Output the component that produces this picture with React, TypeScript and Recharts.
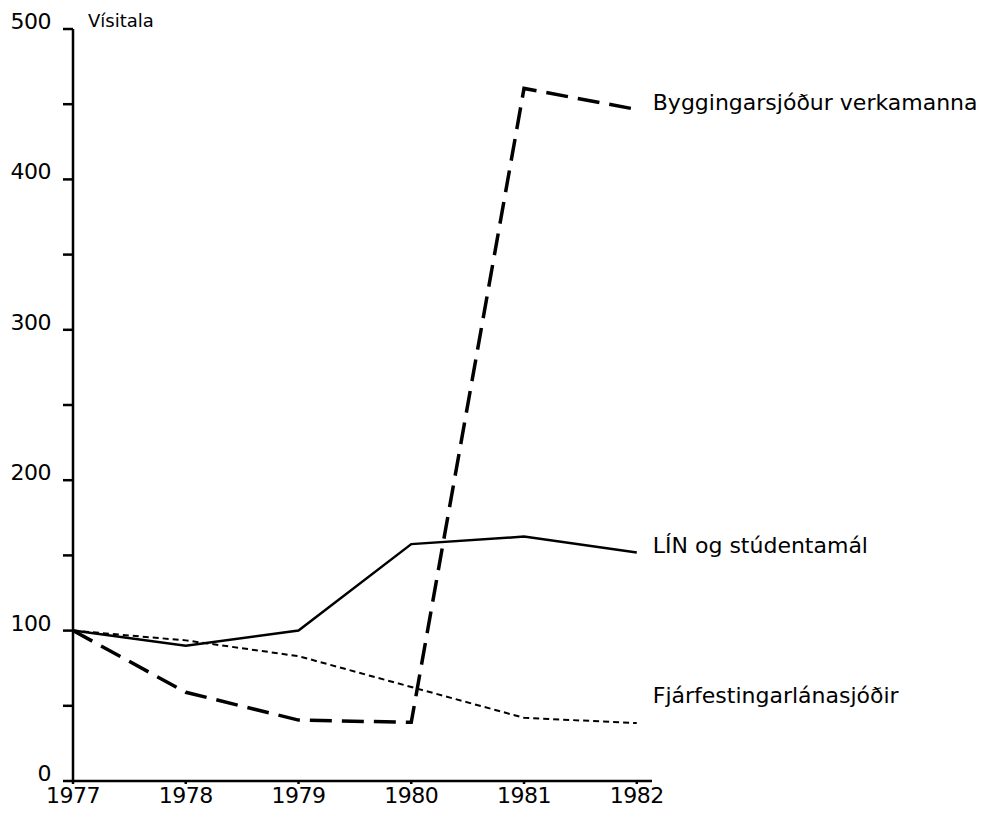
import React from 'react';
import { LineChart, Line, XAxis, YAxis } from 'recharts';

const years = [1977, 1978, 1979, 1980, 1981, 1982];
const byggingarsjodur = [100, 59, 40.5, 39, 460.5, 446.5];
const lin = [100, 90, 100, 157.5, 162.5, 152];
const fjarfesting = [100, 93.5, 83, 62.5, 42, 38.5];
const yTicks = [0, 50, 100, 150, 200, 250, 300, 350, 400, 450, 500];
const seriesNames = ['Byggingarsjóður verkamanna', 'LÍN og stúdentamál', 'Fjárfestingarlánasjóðir'];

const data = years.map((year, i) => ({
  year,
  bygg: byggingarsjodur[i],
  lin: lin[i],
  fjar: fjarfesting[i],
}));

const FONT = '"DejaVu Sans", Verdana, sans-serif';

const YTick = (props: any) => {
  const { x, y, payload } = props;
  if (payload.value % 100 !== 0) return null;
  return (
    <text x={x - 10} y={y - 6} textAnchor="end" dominantBaseline="middle" fontSize={22} fontFamily={FONT} fill="#000" letterSpacing={-0.5}>
      {payload.value}
    </text>
  );
};

const XTick = (props: any) => {
  const { x, y, payload } = props;
  return (
    <text x={x} y={y + 11} textAnchor="middle" dominantBaseline="middle" fontSize={22} fontFamily={FONT} fill="#000" letterSpacing={-0.5}>
      {payload.value}
    </text>
  );
};

const makeEndLabel = (name: string, dy: number) => (props: any) => {
  const { x, y, index } = props;
  if (index !== years.length - 1) return null;
  return (
    <text x={x + 16} y={y + dy} dominantBaseline="middle" fontSize={22} fontFamily={FONT} fill="#000">
      {name}
    </text>
  );
};

export default function App() {
  return (
    <div style={{ position: 'absolute', left: 0, top: 0, width: 991, height: 818, background: '#fff' }}>
      <LineChart width={991} height={818} data={data} margin={{ top: 29, right: 339, bottom: 0, left: 0 }}>
        <XAxis
          dataKey="year"
          type="number"
          domain={[1977, 1982.135]}
          ticks={years}
          allowDataOverflow
          stroke="#000"
          strokeWidth={2.5}
          tickSize={3}
          tick={<XTick />}
          height={37}
        />
        <YAxis
          type="number"
          domain={[0, 500]}
          ticks={yTicks}
          stroke="#000"
          strokeWidth={2.5}
          tickSize={10}
          tick={<YTick />}
          width={73}
          interval={0}
        />
        <Line
          dataKey="bygg"
          stroke="#000"
          strokeWidth={3.5}
          strokeDasharray="22 10"
          dot={false}
          isAnimationActive={false}
          label={makeEndLabel(seriesNames[0], -5)}
        />
        <Line
          dataKey="lin"
          stroke="#000"
          strokeWidth={2.5}
          dot={false}
          isAnimationActive={false}
          label={makeEndLabel(seriesNames[1], -5)}
        />
        <Line
          dataKey="fjar"
          stroke="#000"
          strokeWidth={2}
          strokeDasharray="6 4"
          dot={false}
          isAnimationActive={false}
          label={makeEndLabel(seriesNames[2], -26)}
        />
        <text x={88} y={22} dominantBaseline="middle" fontSize={18} fontFamily={FONT} fill="#000">
          Vísitala
        </text>
      </LineChart>
    </div>
  );
}
